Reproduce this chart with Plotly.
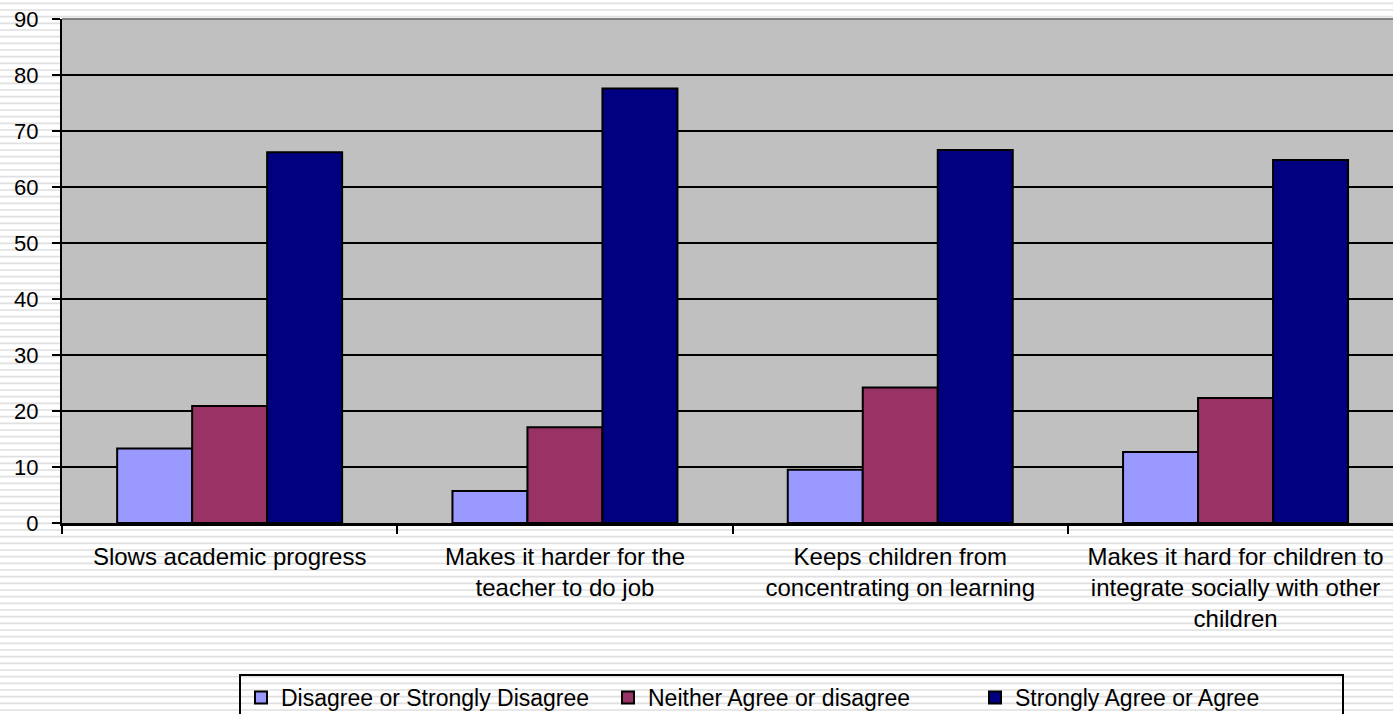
import plotly.graph_objects as go

# Survey categories and percentages per response group
categories = [
    "Slows academic progress",
    "Makes it harder for the<br>teacher to do job",
    "Keeps children from<br>concentrating on learning",
    "Makes it hard for children to<br>integrate socially with other<br>children",
]
disagree = [13.3, 5.7, 9.5, 12.7]
neutral = [20.9, 17.1, 24.2, 22.3]
agree = [66.2, 77.6, 66.6, 64.8]

series_names = [
    "Disagree or Strongly Disagree",
    "Neither Agree or disagree",
    "Strongly Agree or Agree",
]
series_values = [disagree, neutral, agree]
series_colors = ["#9999FF", "#993366", "#000080"]

y_ticks = list(range(0, 100, 10))

# Page geometry (pixels)
W, H = 1393, 714
L, T, B, R = 62, 19, 191, 0
plot_w = W - L - R
plot_h = H - T - B
FONT = "Liberation Sans, Arial, sans-serif"


def px_x(px):
    return (px - L) / plot_w


def px_y(py):
    return (H - B - py) / plot_h


fig = go.Figure()
for name, vals, col in zip(series_names, series_values, series_colors):
    fig.add_trace(go.Bar(
        x=categories, y=vals, name=name,
        marker=dict(color=col, line=dict(color="black", width=2)),
        hoverinfo="skip",
    ))

# Horizontal ruled background of the slide
period = 20 / 3
segs = []
yy = period / 2
while yy < H + period:
    segs.append(f"M{px_x(-5):.5f},{px_y(yy):.5f} H{px_x(W + 5):.5f}")
    yy += period
shapes = [
    dict(type="path", xref="paper", yref="paper", path=" ".join(segs),
         line=dict(color="#e0e0e0", width=1.6), layer="below"),
    dict(type="rect", xref="paper", yref="paper", x0=0, x1=1, y0=0, y1=1,
         fillcolor="#C0C0C0", line=dict(width=0), layer="below"),
    dict(type="line", xref="paper", yref="paper", x0=0, x1=1, y0=1, y1=1,
         line=dict(color="#808080", width=2), layer="above"),
]

cat_px = 335.3
fig.update_layout(
    width=W, height=H,
    margin=dict(l=L, r=R, t=T, b=B, autoexpand=False),
    paper_bgcolor="white",
    plot_bgcolor="#C0C0C0",
    barmode="group",
    bargap=0.329,
    bargroupgap=0,
    font=dict(family=FONT, color="black", size=22),
    shapes=shapes,
    showlegend=True,
    legend=dict(
        orientation="h",
        x=px_x(239), xanchor="left",
        y=px_y(674), yanchor="top",
        bgcolor="rgba(0,0,0,0)",
        bordercolor="black", borderwidth=2,
        font=dict(family=FONT, size=23, color="black"),
        entrywidth=322, entrywidthmode="pixels",
        traceorder="normal",
    ),
    xaxis=dict(
        type="category",
        range=[-0.5, -0.5 + plot_w / cat_px],
        showline=True, linecolor="black", linewidth=2.5,
        ticks="outside", tickson="boundaries", ticklen=8, tickwidth=2, tickcolor="black",
        showgrid=False, zeroline=False,
        ticklabelstandoff=10,
        tickfont=dict(family=FONT, size=24, color="black"),
        fixedrange=True,
    ),
    yaxis=dict(
        range=[0, 90],
        tickvals=y_ticks,
        showline=True, linecolor="black", linewidth=2,
        ticks="outside", ticklen=8, tickwidth=2, tickcolor="black",
        showgrid=True, gridcolor="black", gridwidth=2,
        zeroline=False,
        ticklabelstandoff=9,
        tickfont=dict(family=FONT, size=22, color="black"),
        fixedrange=True,
    ),
)

fig.write_html("out.html", config={"displayModeBar": False})
